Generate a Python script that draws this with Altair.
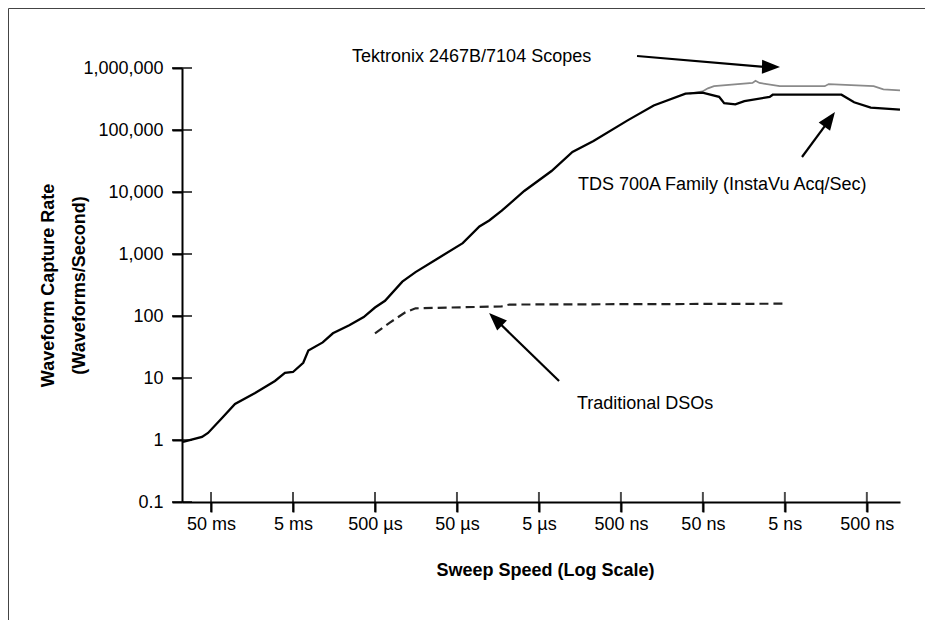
import altair as alt
import pandas as pd

# ---------------- data ----------------
# TDS 700A Family (InstaVu Acq/Sec): sweep speed in s/div, rate in waveforms/s
tds_sweep = [0.110, 0.0644, 0.0544, 0.0367, 0.0255, 0.0145, 0.0083, 0.00627, 0.0050,
             0.00375, 0.00325, 0.00217, 0.00163, 0.00103, 0.000686, 0.0005, 0.000377,
             0.000232, 0.00016, 9.08e-5, 4.25e-5, 2.66e-5, 2.02e-5, 1.42e-5, 7.55e-6,
             3.51e-6, 1.95e-6, 1.08e-6, 4.14e-7, 1.99e-7, 8.15e-8, 5.06e-8, 3.17e-8,
             2.75e-8, 2.01e-8, 1.56e-8, 7.66e-9, 7.03e-9, 1.02e-9, 7.15e-10, 4.48e-10,
             1.97e-10]
tds_rate = [0.93, 1.12, 1.30, 2.26, 3.81, 5.73, 8.96, 12.1, 12.5, 17.6, 27.7, 37.5,
            52.6, 71, 96, 137, 176, 358, 510, 809, 1496, 2782, 3467, 4990, 10380,
            21800, 44200, 66500, 143000, 249000, 385000, 401000, 342000, 270000,
            259000, 292000, 342000, 371000, 371000, 280000, 230000, 213000]

# Tektronix 2467B/7104 Scopes (grey)
tek_sweep = [7.31e-8, 5.06e-8, 4.34e-8, 3.66e-8, 1.24e-8, 1.14e-8, 1.02e-8, 5.77e-9,
             1.63e-9, 1.46e-9, 4.13e-10, 3.14e-10, 1.97e-10]
tek_rate = [385000, 418000, 470000, 509000, 574000, 621000, 574000, 509000, 509000,
            551000, 509000, 452000, 435000]

# Traditional DSOs (dashed)
dso_sweep = [5e-4, 3.36e-4, 2.13e-4, 1.6e-4, 1.42e-5, 1.14e-5, 4.89e-9]
dso_rate = [52.6, 76.7, 115, 133, 143, 153, 158]

# axes
x_ticks = [5e-2, 5e-3, 5e-4, 5e-5, 5e-6, 5e-7, 5e-8, 5e-9, 5e-10]
x_tick_labels = ["50 ms", "5 ms", "500 µs", "50 µs", "5 µs", "500 ns", "50 ns", "5 ns", "500 ns"]
y_ticks = [0.1, 1, 10, 100, 1000, 10000, 100000, 1000000]
x_domain = [1.97e-10, 0.113]
y_domain = [0.1, 1000000]

# annotations
note_text = ["Tektronix 2467B/7104 Scopes", "TDS 700A Family (InstaVu Acq/Sec)", "Traditional DSOs"]
note_sweep = [9.53e-4, 1.67e-6, 1.72e-6]
note_rate = [1.50e6, 12970, 3.81]

arrow_sweep = [3.18e-7, 3.09e-9, 2.84e-6]
arrow_rate = [1.56e6, 36680, 8.95]
arrow_sweep2 = [8.98e-9, 1.54e-9, 1.53e-5]
arrow_rate2 = [1.04e6, 128200, 77.7]

head_sweep = [7.38e-9, 1.42e-9, 1.69e-5]
head_rate = [1.04e6, 148800, 88.5]
head_angle = [91, 36, 314]

# ---------------- chart ----------------
FONT = "Liberation Sans"
xs = alt.Scale(type="log", domain=x_domain, reverse=True, nice=False)
ys = alt.Scale(type="log", domain=y_domain, nice=False)


def label_expr(values, labels):
    expr = f"'{labels[-1]}'"
    for v, lab in reversed(list(zip(values[:-1], labels[:-1]))):
        expr = f"datum.value > {v / 3.1623:.4g} ? '{lab}' : ({expr})"
    return expr


x_axis = alt.Axis(values=x_ticks, labelExpr=label_expr(x_ticks, x_tick_labels),
                  title="Sweep Speed (Log Scale)", titleFontWeight="bold", titleFontSize=18,
                  titleX=363, titleY=68, titleBaseline="middle", titleAnchor="middle",
                  labelPadding=3, labelFlush=False, labelOverlap=False, grid=False)
y_axis = alt.Axis(values=y_ticks, format=",",
                  title=["Waveform Capture Rate", "(Waveforms/Second)"],
                  titleFontWeight="bold", titleFontSize=18, titleAngle=270,
                  titleX=-143, titleY=217, titleBaseline="top", titleAlign="center",
                  titleLineHeight=31, labelPadding=9, labelOverlap=False, grid=False)

X = alt.X("sweep:Q", scale=xs, axis=x_axis)
Y = alt.Y("rate:Q", scale=ys, axis=y_axis)

tds_df = pd.DataFrame({"sweep": tds_sweep, "rate": tds_rate})
tek_df = pd.DataFrame({"sweep": tek_sweep, "rate": tek_rate})
dso_df = pd.DataFrame({"sweep": dso_sweep, "rate": dso_rate})

tek_line = alt.Chart(tek_df).mark_line(color="#8a8a8a", strokeWidth=1.8).encode(x=X, y=Y)
tds_line = alt.Chart(tds_df).mark_line(color="black", strokeWidth=2.3).encode(x=X, y=Y)
dso_line = alt.Chart(dso_df).mark_line(color="#222222", strokeWidth=2.2,
                                        strokeDash=[9, 5]).encode(x=X, y=Y)

ytick_df = pd.DataFrame({"sweep": [x_domain[1]] * len(y_ticks), "rate": y_ticks})
xtick_df = pd.DataFrame({"sweep": x_ticks, "rate": [y_domain[0]] * len(x_ticks)})
ytick_layer = alt.Chart(ytick_df).mark_tick(orient="horizontal", size=20, thickness=2,
                                            color="black").encode(x=X, y=Y)
xtick_layer = alt.Chart(xtick_df).mark_tick(orient="vertical", size=20, thickness=2,
                                            color="black").encode(x=X, y=Y)

notes_df = pd.DataFrame({"sweep": note_sweep, "rate": note_rate, "label": note_text})
notes = alt.Chart(notes_df).mark_text(align="left", baseline="middle", fontSize=18,
                                      font=FONT, color="black").encode(
    x=X, y=Y, text="label:N")

arrows_df = pd.DataFrame({"sweep": arrow_sweep, "rate": arrow_rate,
                          "sweep2": arrow_sweep2, "rate2": arrow_rate2})
shafts = alt.Chart(arrows_df).mark_rule(color="black", strokeWidth=2.2).encode(
    x=X, y=Y, x2="sweep2:Q", y2="rate2:Q")

heads_df = pd.DataFrame({"sweep": head_sweep, "rate": head_rate, "angle": head_angle})
heads = alt.Chart(heads_df).mark_point(shape="M0,-1L0.78,1L-0.78,1Z", filled=True,
                                       opacity=1, color="black", size=324).encode(
    x=X, y=Y, angle=alt.Angle("angle:Q", scale=None))

frame_df = pd.DataFrame({"k": [0]})
frame_top = alt.Chart(frame_df).mark_rule(color="#444444", strokeWidth=1).encode(
    x=alt.value(-173.5), x2=alt.value(743), y=alt.value(-59.5))
frame_left = alt.Chart(frame_df).mark_rule(color="#444444", strokeWidth=1).encode(
    x=alt.value(-173.5), y=alt.value(-59.5), y2=alt.value(552))

chart = alt.layer(
    tek_line, tds_line, dso_line, ytick_layer, xtick_layer, shafts, heads, notes,
    frame_top, frame_left,
).properties(
    width=718, height=434, padding=0,
).configure_view(
    strokeWidth=0,
).configure_axis(
    labelFont=FONT, titleFont=FONT, labelFontSize=18, labelColor="black",
    titleColor="black", domainColor="black", domainWidth=2, tickColor="black",
    tickWidth=2, tickSize=10,
)

chart.save("out.html", embed_options={"renderer": "svg", "actions": False})
